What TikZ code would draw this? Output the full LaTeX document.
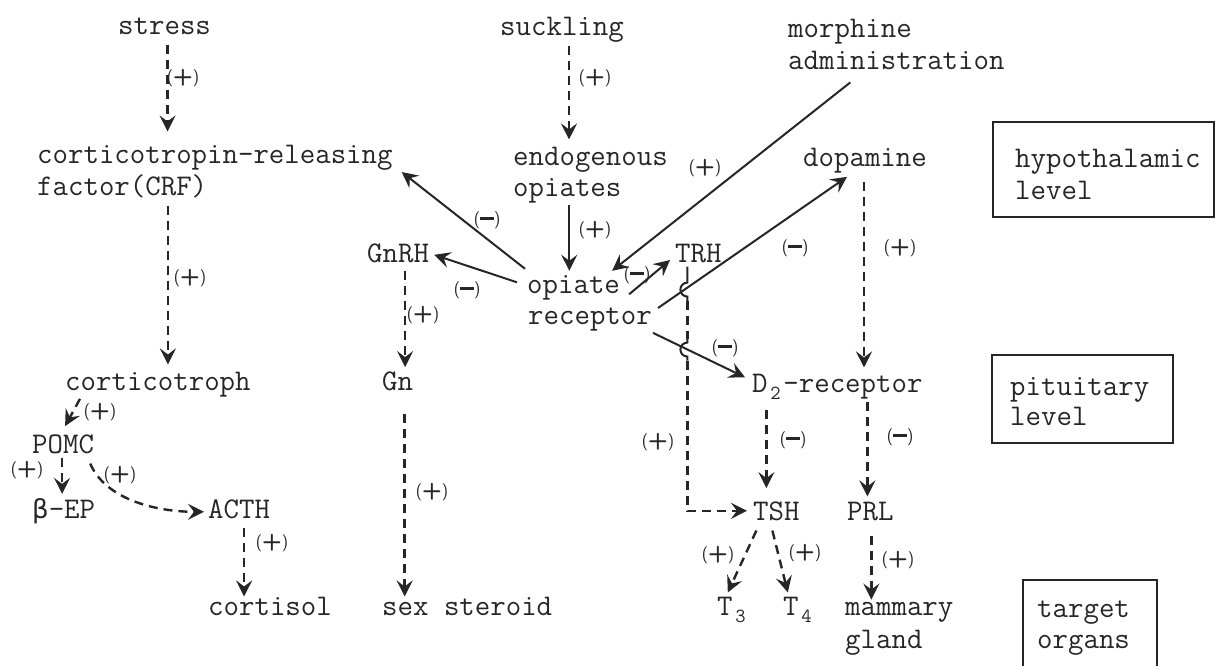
\documentclass[tikz,border=0pt]{standalone}
\usepackage{fontspec}
\newfontfamily\grkfont{DejaVu Sans}
\usetikzlibrary{arrows.meta}
\newcommand\lplus{(\raisebox{-1pt}{\fontsize{23}{23}\selectfont\textbf{+}})}
\newcommand\lminus{(\rule[4pt]{14pt}{3pt})}
\newcommand\subd[1]{\makebox[0.525em]{\raisebox{-7pt}{\fontsize{20}{20}\selectfont #1}}}
\begin{document}
\begin{tikzpicture}[x=1pt,y=-1pt,
  txt/.style={font=\ttfamily\fontsize{30}{31}\selectfont, inner sep=0pt, anchor=base west, text=black!85},
  sg/.style={font=\sffamily\fontsize{17}{17}\selectfont, inner sep=0pt, text=black!85},
  tipS/.style={-{Stealth[length=16pt,width=16pt,inset=6pt]}},
  dar/.style={tipS, line width=2.4pt, dash pattern=on 9pt off 6pt, draw=black!85},
  sar/.style={tipS, line width=2pt, draw=black!85},
  hop/.style={line width=2pt, draw=black!85},
  lvl/.style={line width=1.5pt, draw=black!85}]
\useasboundingbox (0,0) rectangle (1217,666);

% ---------- texts ----------
\node[txt] (stress) at (118,35) {stress};
\node[txt] (suckling) at (500,36) {suckling};
\node[txt] (morph1) at (788,38) {morphine};
\node[txt] (morph2) at (788,70) {administration};
\node[txt] (crf1) at (37,163) {corticotropin-releasing};
\node[txt] (crf2) at (37,195) {factor(CRF)};
\node[txt] (endo1) at (513,165) {endogenous};
\node[txt] (endo2) at (513,196) {opiates};
\node[txt] (dopamine) at (803,166) {dopamine};
\node[txt] (hyp1) at (1015,167) {hypothalamic};
\node[txt] (hyp2) at (1015,199) {level};
\node[txt] (gnrh) at (367,262) {GnRH};
\node[txt] (trh) at (675,262) {TRH};
\node[txt] (opi1) at (527,293) {opiate};
\node[txt] (opi2) at (528,324) {receptor};
\node[txt] (cortico) at (65,390) {corticotroph};
\node[txt] (gn) at (382,390) {Gn};
\node[txt] (d2) at (752,392) {D\subd{2}-receptor};
\node[txt] (pit1) at (1010,395) {pituitary};
\node[txt] (pit2) at (1010,425) {level};
\node[txt] (pomc) at (32,453) {POMC};
\node[txt] (bep) at (32,518) {{\grkfont\fontsize{26}{26}\selectfont β}-EP};
\node[txt] (acth) at (208,518) {ACTH};
\node[txt] (tsh) at (753,520) {TSH};
\node[txt] (prl) at (847,520) {PRL};
\node[txt] (cortisol) at (208,615) {cortisol};
\node[txt] (sex) at (382,615) {sex steroid};
\node[txt] (t3) at (717,615) {T\subd{3}};
\node[txt] (t4) at (783,615) {T\subd{4}};
\node[txt] (mam1) at (845,615) {mammary};
\node[txt] (mam2) at (845,648) {gland};
\node[txt] (tar1) at (1037,617) {target};
\node[txt] (tar2) at (1037,648) {organs};

% ---------- level boxes ----------
\draw[lvl] (993,122) rectangle (1214,217);
\draw[lvl] (992,355) rectangle (1173,443);
\draw[lvl] (1023,668) -- (1023,580) -- (1157,580) -- (1157,668);

% ---------- sign labels ----------
\node[sg] (s1) at (183,78) {\lplus};
\node[sg] (s2) at (595,78) {\lplus};
\node[sg] (s3) at (705,168) {\lplus};
\node[sg] (s4) at (487,220) {\lminus};
\node[sg] (s5) at (595,230) {\lplus};
\node[sg] (s6) at (190,278) {\lplus};
\node[sg] (s7) at (467,290) {\lminus};
\node[sg] (s8) at (637,275) {\lminus};
\node[sg] (s9) at (423,315) {\lplus};
\node[sg] (s10) at (795,248) {\lminus};
\node[sg] (s11) at (900,248) {\lplus};
\node[sg] (s12) at (725,348) {\lminus};
\node[sg] (s13) at (658,442) {\lplus};
\node[sg] (s14) at (793,440) {\lminus};
\node[sg] (s15) at (900,437) {\lminus};
\node[sg] (s16) at (100,412) {\lplus};
\node[sg] (s17) at (27,470) {\lplus};
\node[sg] (s18) at (120,475) {\lplus};
\node[sg] (s19) at (432,492) {\lplus};
\node[sg] (s20) at (272,543) {\lplus};
\node[sg] (s21) at (718,555) {\lplus};
\node[sg] (s22) at (805,553) {\lplus};
\node[sg] (s23) at (898,560) {\lplus};

% ---------- connectors ----------
\draw[dar] ([xshift=3pt,yshift=-10pt]stress.south) -- ([xshift=3pt,yshift=13pt]stress.south |- crf1.north);
\draw[dar] ([xshift=10pt,yshift=-8pt]cortico.north |- crf2.south) -- ([xshift=10pt,yshift=7pt]cortico.north);
\draw[dar] ([xshift=7pt,yshift=-3pt]suckling.south) -- ([xshift=7pt,yshift=7pt]suckling.south |- endo1.north);
\draw[sar] ([xshift=2pt,yshift=-2pt]endo2.south) -- ([xshift=2pt,yshift=4pt]endo2.south |- opi1.north);
\draw[sar] ([xshift=-46pt,yshift=-12pt]morph2.south) -- ([xshift=-8pt,yshift=4pt]opi1.north east);
\draw[sar] ([xshift=-2pt,yshift=6pt]opi1.north west) -- ([xshift=9pt,yshift=-2pt]crf1.south east);
\draw[sar] ([xshift=-10pt,yshift=5pt]opi1.west) -- ([xshift=5pt,yshift=-2pt]gnrh.east);
\draw[sar] ([xshift=9pt,yshift=-7pt]opi1.east) -- ([xshift=-5pt,yshift=-7pt]trh.west);
\draw[sar] ([xshift=6pt,yshift=11pt]opi2.east) -- ([xshift=-18pt,yshift=-4pt]dopamine.south);
\draw[sar] ([xshift=1pt,yshift=-2pt]opi2.south east) -- ([xshift=-7pt,yshift=9pt]d2.west);
\draw[dar] ([xshift=-1pt,yshift=-9pt]dopamine.south) -- ([xshift=-1pt,yshift=6pt]dopamine.south |- d2.north);
% TRH -> TSH, hopping over the two solid lines
\draw[hop] ([xshift=-11pt,yshift=-4pt]trh.south) -- ++(0,16)
  arc[start angle=90, end angle=270, radius=7pt] -- ++(0,6);
\draw[dar,-] ([xshift=-11pt,yshift=-38pt]trh.south) -- ++(0,38);
\draw[hop] ([xshift=-11pt,yshift=-76pt]trh.south) -- ++(0,4)
  arc[start angle=90, end angle=270, radius=7pt] -- ++(0,4);
\draw[dar] ([xshift=-11pt,yshift=-98pt]trh.south)
  -- ([xshift=-11pt]trh.south |- tsh.west) -- ([xshift=-6pt]tsh.west);
\draw[dar] ([xshift=-10pt,yshift=-11pt]tsh.north |- d2.south) -- ([xshift=-10pt,yshift=13pt]tsh.north);
\draw[dar] ([xshift=-3pt,yshift=-3pt]prl.north |- d2.south) -- ([xshift=-3pt,yshift=5pt]prl.north);
\draw[dar] ([xshift=-20pt,yshift=-10pt]tsh.south) -- ([xshift=-5pt,yshift=4pt]t3.north);
\draw[dar] ([xshift=-4pt,yshift=-10pt]tsh.south) -- ([xshift=-11pt,yshift=4pt]t4.north);
\draw[dar] ([xshift=1pt,yshift=-15pt]prl.south) -- ([xshift=1pt,yshift=2pt]prl.south |- mam1.north);
\draw[dar] ([xshift=7pt,yshift=-8pt]gnrh.south) -- ([xshift=7pt,yshift=4pt]gnrh.south |- gn.north);
\draw[dar] ([xshift=7pt,yshift=-23pt]gn.south) -- ([xshift=7pt]gn.south |- sex.north);
\draw[dar] ([xshift=15pt,yshift=-2pt]cortico.south west) -- ([xshift=2pt,yshift=8pt]pomc.north);
\draw[dar] ([xshift=-1pt,yshift=-4pt]pomc.south) -- ([xshift=-1pt,yshift=4pt]pomc.south |- bep.north);
\draw[dar] ([xshift=-4pt,yshift=-10pt]pomc.south east) .. controls +(15,35) and +(-50,0) .. ([xshift=-4pt,yshift=-3pt]acth.west);
\draw[dar] ([xshift=5pt,yshift=-9pt]acth.south) -- ([xshift=5pt]acth.south |- cortisol.north);
\end{tikzpicture}
\end{document}
